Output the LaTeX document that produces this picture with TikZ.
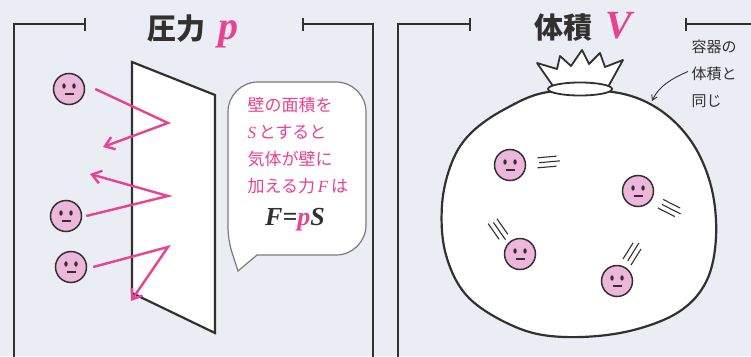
\documentclass[tikz,border=0pt]{standalone}
\usepackage{fontspec}
\setmainfont{Liberation Serif}
\newfontfamily\jp{Noto Sans CJK JP}
\usetikzlibrary{arrows.meta}

\definecolor{bg}{HTML}{EBEDF4}
\definecolor{ink}{HTML}{333030}
\definecolor{hot}{HTML}{E8438F}
\definecolor{facepink}{HTML}{EDB7DB}
\definecolor{bubbleline}{HTML}{7A7A7A}

\tikzset{
  frame/.style={draw=ink, line width=2.4pt},
  wall/.style={draw=ink, fill=white, line width=2.2pt, line join=miter},
  bounce/.style={draw=hot, line width=2.4pt,
    -{Straight Barb[length=9pt,width=13pt,line width=2.4pt]}},
  face/.style={circle, draw=ink, fill=facepink, line width=1.5pt,
    minimum size=31pt, inner sep=0pt,
    path picture={
      \fill[ink] ([xshift=-5pt,yshift=3pt]path picture bounding box.center) ellipse (1.7pt and 2.7pt);
      \fill[ink] ([xshift=5pt,yshift=3pt]path picture bounding box.center) ellipse (1.7pt and 2.7pt);
      \draw[ink, line width=1.2pt] ([xshift=-4.5pt,yshift=-5pt]path picture bounding box.center)
        -- ([xshift=4.5pt,yshift=-5pt]path picture bounding box.center);
    }},
  bubble/.style={draw=bubbleline, fill=white, line width=1.2pt},
  bag/.style={draw=ink, fill=white, line width=2.2pt},
  speed/.style={draw=ink, line width=1.1pt},
  jptitle/.style={font=\jp\bfseries\fontsize{29}{32}\selectfont, text=ink},
  pinktext/.style={font=\jp\fontsize{17}{27}\selectfont, text=hot, align=left},
  note/.style={font=\jp\fontsize{15}{27}\selectfont, text=ink, align=left},
}

% bold italic serif symbol used in the panel titles
\newcommand{\titlesym}[1]{{\fontspec{Liberation Serif}\bfseries\itshape\fontsize{40}{40}\selectfont\color{hot}#1}}

% three short parallel lines behind a moving molecule
\newcommand{\motionlines}[3]{%
  \begin{scope}[shift={(#1,#2)}, rotate=#3]
    \draw[speed] (-9,-5) -- (10,-5);
    \draw[speed] (-8,0) -- (13,0);
    \draw[speed] (-10,5) -- (9,5);
  \end{scope}}

\begin{document}
\begin{tikzpicture}[x=1pt, y=-1pt]
  \fill[bg] (0,0) rectangle (751,356);
  \useasboundingbox (0,0) rectangle (751,356);

  % ---------- left panel: pressure ----------
  \draw[frame] (85,18) -- (85,31);
  \draw[frame] (85,24) -- (14,24) -- (14,358);
  \draw[frame] (303,18) -- (303,31);
  \draw[frame] (303,24) -- (373,24) -- (373,358);
  \node[jptitle, anchor=base] (ttl1) at (193,39) {圧力\hspace{13pt}\titlesym{p}};

  % wall
  \draw[wall] (132,62) -- (215,95) -- (215,333) -- (132,293) -- cycle;

  % molecules
  \node[face] (m1) at (69,89) {};
  \node[face] (m2) at (66,216) {};
  \node[face] (m3) at (71,267) {};

  \coordinate (v1) at (168,123);
  \coordinate (e1) at (103,147);
  \coordinate (v2) at (168,196);
  \coordinate (e2) at (90,174);
  \coordinate (v3) at (168,247);
  \coordinate (e3) at (131,301);

  \draw[bounce] ([xshift=10pt]m1.east) -- (v1) -- (e1);
  \draw[bounce] ([xshift=4pt]m2.east) -- (v2) -- (e2);
  \draw[bounce] ([xshift=6pt]m3.east) -- (v3) -- (e3);

  % speech bubble
  \draw[bubble] (257,255) [rounded corners=30pt] -- (366,255) -- (366,82)
    -- (228,82) [rounded corners=12pt] -- (228,240) [sharp corners] -- (238,271) -- cycle;
  \node[pinktext, anchor=north west] (btext) at (244,94) {%
    壁の面積を\\
    {\fontspec{Liberation Serif}\itshape S}\,とすると\\
    気体が壁に\\
    加える力\,{\fontspec{Liberation Serif}\itshape F}\,は};
  \node[font=\fontsize{26}{26}\selectfont\bfseries\itshape, text=ink] (formula) at (295,220)
    {F={\color{hot}p}S};

  % ---------- right panel: volume ----------
  \draw[frame] (470,18) -- (470,31);
  \draw[frame] (470,24) -- (398,24) -- (398,358);
  \draw[frame] (686,18) -- (686,31);
  \draw[frame] (686,24) -- (753,24);
  \node[jptitle, anchor=base] (ttl2) at (583,38) {体積\hspace{13pt}\titlesym{V}};

  % the container bag
  \draw[bag] plot[smooth cycle, tension=0.6] coordinates {
    (548,92) (505,109) (471,133) (452,162) (442,205) (446,255) (469,298)
    (518,328) (565,337) (625,332) (677,313) (706,282) (716,237) (711,186)
    (691,141) (657,108) (613,92)};
  % tied top
  \draw[bag, line width=1.8pt, line join=round] (553,86) -- (537,63) -- (557,69) -- (560,56)
    -- (571,66) -- (582,50) -- (589,64) -- (600,53) -- (605,67) -- (623,60) -- (608,87);
  \draw[bag, line width=1.8pt] (580,89) ellipse (32 and 6.5);

  % molecules inside
  \node[face] (n1) at (510,165) {};
  \node[face] (n2) at (638,191) {};
  \node[face] (n3) at (520,254) {};
  \node[face] (n4) at (617,281) {};
  \motionlines{547}{162}{5}
  \motionlines{669}{208}{-27}
  \motionlines{498}{229}{-55}
  \motionlines{632}{254}{58}

  % note on the bag volume
  \node[note, anchor=north west] (vnote) at (688,36) {容器の\\体積と\\同じ};
  \coordinate (bagpt) at (652,101);
  \draw[ink, line width=0.9pt, -{Straight Barb[length=5pt,width=6pt]}]
    ([yshift=2pt]vnote.west) .. controls (671,79) and (659,86) .. (bagpt);
\end{tikzpicture}
\end{document}
